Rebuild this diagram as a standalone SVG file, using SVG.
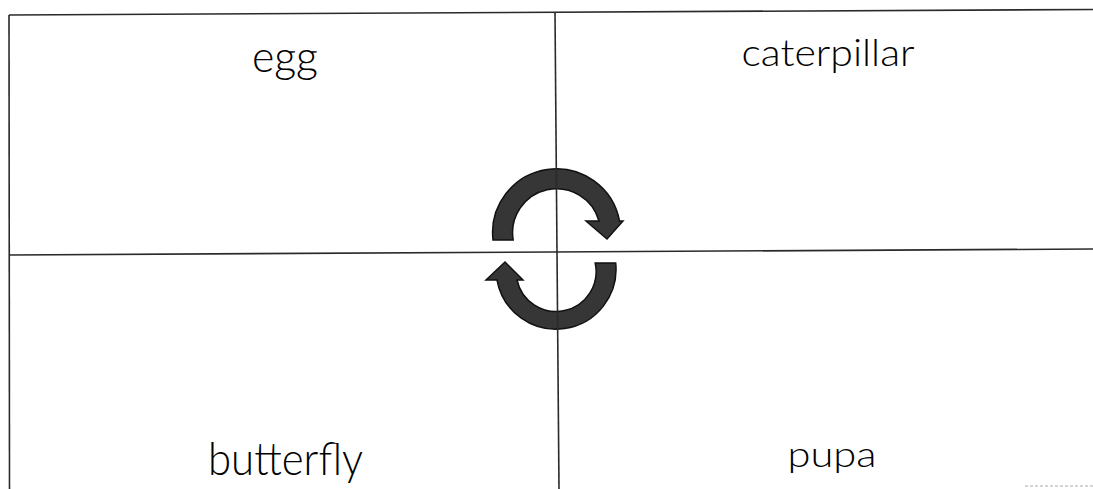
<svg xmlns="http://www.w3.org/2000/svg" width="1093" height="489" viewBox="0 0 1093 489">
<style>
.ln{stroke:#2a2a2a;stroke-width:1.6;fill:none}
.lbl{font-family:Lato,"Noto Sans","DejaVu Sans",sans-serif;font-weight:300;fill:#000;text-anchor:middle}
.arr{fill:#363636;stroke:#111;stroke-width:1.5;stroke-linejoin:miter}
</style>
<rect width="1093" height="489" fill="#fff"/>
<g id="connectors">
<path class="arr" d="M493,240 A64,64 0 0 1 619.5,221 L623,221 L607,239 L586,221 L599,221 A44,44 0 0 0 513.2,240 Z"/>
<path class="arr" d="M615.7,263 A60,60 0 0 1 497,280 L486,280 L505,262 L523,280 L517,280 A40,40 0 0 0 595.2,263 Z"/>
</g>
<g id="grid">
<line class="ln" x1="9" y1="15" x2="1093" y2="9.5"/>
<line class="ln" x1="9" y1="15" x2="9.5" y2="489"/>
<line class="ln" x1="10" y1="255" x2="1093" y2="249"/>
<line class="ln" x1="555" y1="13" x2="559" y2="489"/>
<line x1="1025" y1="486" x2="1093" y2="486" stroke="#aaa" stroke-width="1" stroke-dasharray="3,2"/>
</g>
<g id="egg"><text class="lbl" x="285" y="72" font-size="43" textLength="66" lengthAdjust="spacingAndGlyphs">egg</text></g>
<g id="caterpillar"><text class="lbl" x="828" y="66" font-size="37" textLength="173" lengthAdjust="spacingAndGlyphs">caterpillar</text></g>
<g id="butterfly"><text class="lbl" x="285.5" y="475" font-size="46" textLength="155" lengthAdjust="spacingAndGlyphs">butterfly</text></g>
<g id="pupa"><text class="lbl" x="832" y="467" font-size="35" textLength="89" lengthAdjust="spacingAndGlyphs">pupa</text></g>
</svg>
